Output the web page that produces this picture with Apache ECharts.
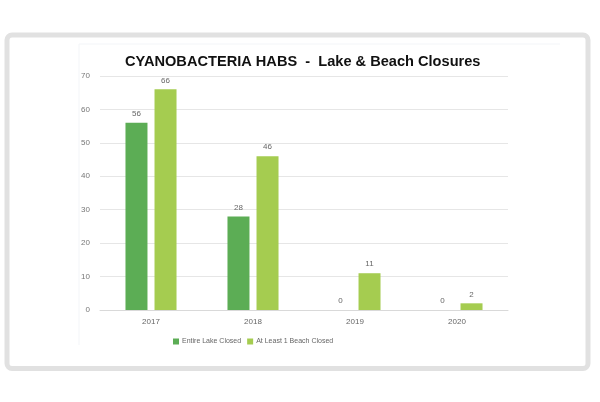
<!DOCTYPE html>
<html>
<head>
<meta charset="utf-8">
<script src="https://cdn.jsdelivr.net/npm/echarts@6/dist/echarts.min.js"></script>
<style>
  html, body { margin: 0; padding: 0; background: #fff; }
  #chart { width: 600px; height: 402px; }
</style>
</head>
<body>
<div id="chart"></div>
<script>
// data
var years = ['2017', '2018', '2019', '2020'];
var entireLake = [56, 28, 0, 0];
var atLeastOneBeach = [66, 46, 11, 2];
var yTicks = { min: 0, max: 70, interval: 10 };

var chart = echarts.init(document.getElementById('chart'));

var labelStyle = {
    show: true,
    position: 'top',
    distance: 5,
    fontFamily: 'Liberation Sans, Arial, sans-serif',
    fontSize: 8,
    color: '#666'
};

chart.setOption({
    backgroundColor: '#fff',
    animation: false,
    title: {
        text: 'CYANOBACTERIA HABS  -  Lake & Beach Closures',
        left: 120,
        top: 49,
        textStyle: {
            fontFamily: 'Liberation Sans, Arial, sans-serif',
            fontSize: 14.6,
            fontWeight: 'bold',
            color: '#111'
        }
    },
    // the grey frame round the chart picture
    graphic: [{
        type: 'rect',
        shape: { x: 7, y: 35, width: 581, height: 333.5, r: 5 },
        style: { fill: 'none', stroke: '#e1e1e1', lineWidth: 5 },
        silent: true
    }, {
        type: 'line',
        shape: { x1: 79, y1: 44, x2: 79, y2: 345 },
        style: { stroke: '#f3f5f8', lineWidth: 1 },
        silent: true
    }, {
        type: 'line',
        shape: { x1: 79, y1: 44, x2: 560, y2: 44 },
        style: { stroke: '#f3f5f8', lineWidth: 1 },
        silent: true
    }],
    legend: {
        left: 168,
        top: 333,
        icon: 'rect',
        itemWidth: 6,
        itemHeight: 6,
        itemGap: 6,
        textStyle: {
            fontFamily: 'Liberation Sans, Arial, sans-serif',
            fontSize: 7,
            color: '#666',
            padding: [0, 0, 0, -2]
        },
        data: ['Entire Lake Closed', 'At Least 1 Beach Closed']
    },
    grid: {
        left: 100,
        right: 92,
        top: 76,
        bottom: 92
    },
    xAxis: {
        type: 'category',
        data: years,
        axisTick: { show: false },
        axisLine: { lineStyle: { color: '#d9d9d9' } },
        axisLabel: {
            margin: 8,
            fontFamily: 'Liberation Sans, Arial, sans-serif',
            fontSize: 8,
            color: '#666'
        }
    },
    yAxis: {
        type: 'value',
        min: yTicks.min,
        max: yTicks.max,
        interval: yTicks.interval,
        axisLine: { show: false },
        axisTick: { show: false },
        splitLine: { lineStyle: { color: '#e6e6e6' } },
        axisLabel: {
            margin: 10,
            fontFamily: 'Liberation Sans, Arial, sans-serif',
            fontSize: 8,
            color: '#777'
        }
    },
    series: [{
        name: 'Entire Lake Closed',
        type: 'bar',
        data: entireLake,
        barWidth: 22,
        barGap: '32%',
        itemStyle: { color: '#5cad55' },
        label: labelStyle
    }, {
        name: 'At Least 1 Beach Closed',
        type: 'bar',
        data: atLeastOneBeach,
        barWidth: 22,
        itemStyle: { color: '#a5cc50' },
        label: labelStyle
    }]
});
</script>
</body>
</html>
